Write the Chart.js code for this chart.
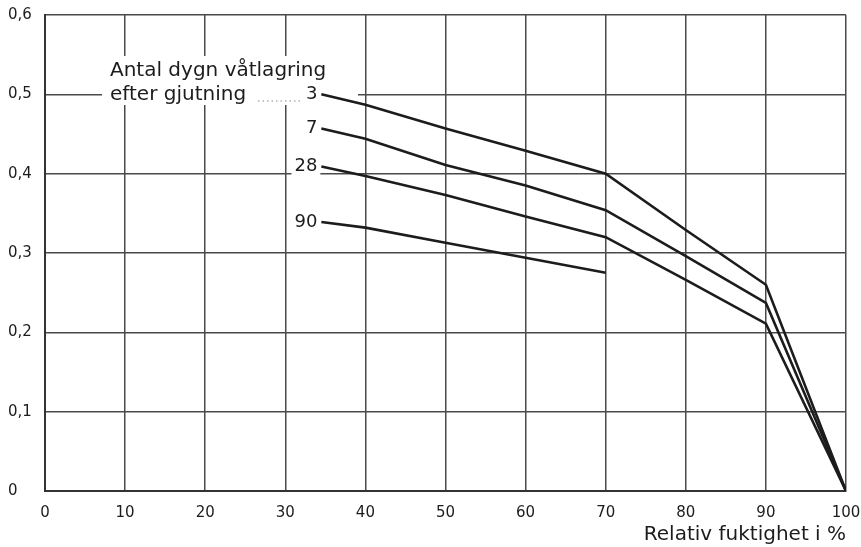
<!DOCTYPE html>
<html>
<head>
<meta charset="utf-8">
<script src="https://cdn.jsdelivr.net/npm/chart.js@4/dist/chart.umd.min.js"></script>
<style>
  body { margin: 0; background: #fff; }
  #wrap { width: 861px; height: 547px; }
</style>
</head>
<body>
<div id="wrap"><canvas id="fuktChart"></canvas></div>
<script>
// Relativ fuktighet (%) and values per curve (days of wet curing)
const rh = [34.5, 40, 50, 60, 70, 80, 90, 100];
const days3 = [0.50, 0.487, 0.457, 0.429, 0.40, 0.329, 0.26, 0];
const days7 = [0.457, 0.444, 0.411, 0.385, 0.354, 0.296, 0.237, 0];
const days28 = [0.409, 0.397, 0.373, 0.346, 0.320, 0.266, 0.211, 0];
const days90 = [0.339, 0.332, 0.313, 0.294, 0.275, null, null, null];
const curveNames = ['3', '7', '28', '90'];
const yTickLabels = ['0', '0,1', '0,2', '0,3', '0,4', '0,5', '0,6'];
const noteLines = ['Antal dygn våtlagring', 'efter gjutning'];

const toPoints = vals => vals
  .map((v, i) => ({ x: rh[i], y: v }))
  .filter(p => p.y !== null);

const FONT = '"DejaVu Sans", sans-serif';
const INK = '#1c1c1c';

// annotation text with white backing, drawn over the grid but under the curves
const notes = {
  id: 'notes',
  beforeDatasetsDraw(chart) {
    const { ctx, scales: { x, y } } = chart;
    ctx.save();
    ctx.textBaseline = 'middle';

    // block behind the heading
    ctx.fillStyle = '#fff';
    ctx.fillRect(102, 56, 232, 49);
    ctx.fillRect(320, 90, 38, 6);

    ctx.font = '20px ' + FONT;
    ctx.fillStyle = INK;
    ctx.textAlign = 'left';
    ctx.fillText(noteLines[0], 110, 71);
    ctx.fillText(noteLines[1], 110, 95);

    // dotted leader to "3"
    ctx.strokeStyle = '#888';
    ctx.lineWidth = 1.2;
    ctx.setLineDash([1.5, 3]);
    ctx.beginPath();
    ctx.moveTo(258, 101);
    ctx.lineTo(300, 101);
    ctx.stroke();
    ctx.setLineDash([]);

    // curve names at the start of each curve
    ctx.font = '18px ' + FONT;
    ctx.textAlign = 'right';
    chart.data.datasets.forEach(ds => {
      const p = ds.data[0];
      const px = x.getPixelForValue(p.x) - 4;
      const py = y.getPixelForValue(p.y);
      const w = ctx.measureText(ds.label).width;
      ctx.fillStyle = '#fff';
      ctx.fillRect(px - w - 3, py - 11, w + 6, 22);
      ctx.fillStyle = INK;
      ctx.fillText(ds.label, px, py);
    });
    ctx.restore();
  }
};

const series = [days3, days7, days28, days90];

new Chart(document.getElementById('fuktChart'), {
  type: 'line',
  data: {
    datasets: series.map((vals, i) => ({
      label: curveNames[i],
      data: toPoints(vals),
      borderColor: INK,
      borderWidth: 2.6,
      pointRadius: 0,
      tension: 0,
      fill: false
    }))
  },
  options: {
    responsive: true,
    maintainAspectRatio: false,
    animation: false,
    layout: { padding: { left: 8, right: 15, top: 15, bottom: 0 } },
    plugins: {
      legend: { display: false },
      tooltip: { enabled: false }
    },
    scales: {
      x: {
        type: 'linear',
        min: 0,
        max: 100,
        ticks: {
          stepSize: 10,
          padding: 13,
          color: INK,
          font: { family: FONT, size: 15 },
          maxRotation: 0
        },
        grid: { color: '#4a4a4a', lineWidth: 1.5, drawTicks: false },
        border: { color: '#333', width: 2 },
        title: {
          display: true,
          text: 'Relativ fuktighet i %',
          align: 'end',
          color: INK,
          font: { family: FONT, size: 20 },
          padding: { top: 0, bottom: 0 }
        },
        afterFit(scale) {
          scale.height = 56;
          scale.paddingLeft = 0;
          scale.paddingRight = 0;
        }
      },
      y: {
        min: 0,
        max: 0.6,
        ticks: {
          stepSize: 0.1,
          crossAlign: 'far',
          padding: 0,
          color: INK,
          font: { family: FONT, size: 15 },
          callback: (v, i) => yTickLabels[i]
        },
        grid: { color: '#4a4a4a', lineWidth: 1.5, drawTicks: false },
        border: { color: '#333', width: 2 },
        afterFit(scale) {
          scale.width = 37;
          scale.paddingTop = 0;
          scale.paddingBottom = 0;
        }
      }
    }
  },
  plugins: [notes]
});
</script>
</body>
</html>
